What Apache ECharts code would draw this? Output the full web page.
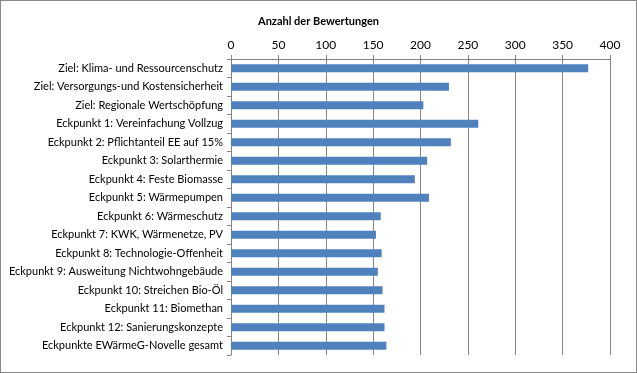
<!DOCTYPE html>
<html><head><meta charset="utf-8">
<script src="https://cdn.jsdelivr.net/npm/echarts@6/dist/echarts.min.js"></script>
<style>html,body{margin:0;padding:0;background:#fff}#c{width:637px;height:373px;box-sizing:border-box;border:1px solid #888}</style>
</head><body><div id="c"></div>
<script>
const categories = [
  "Ziel: Klima- und Ressourcenschutz",
  "Ziel: Versorgungs-und Kostensicherheit",
  "Ziel: Regionale Wertschöpfung",
  "Eckpunkt 1: Vereinfachung Vollzug",
  "Eckpunkt 2: Pflichtanteil EE auf 15%",
  "Eckpunkt 3: Solarthermie",
  "Eckpunkt 4: Feste Biomasse",
  "Eckpunkt 5: Wärmepumpen",
  "Eckpunkt 6: Wärmeschutz",
  "Eckpunkt 7: KWK, Wärmenetze, PV",
  "Eckpunkt 8: Technologie-Offenheit",
  "Eckpunkt 9: Ausweitung Nichtwohngebäude",
  "Eckpunkt 10: Streichen Bio-Öl",
  "Eckpunkt 11: Biomethan",
  "Eckpunkt 12: Sanierungskonzepte",
  "Eckpunkte EWärmeG-Novelle gesamt"
];
const values = [377, 230, 203, 261, 232, 207, 194, 209, 158, 153, 159, 155, 160, 162, 162, 164];
const xTicks = [0, 50, 100, 150, 200, 250, 300, 350, 400];

const chart = echarts.init(document.getElementById('c'), null, {renderer: 'canvas'});
const font = 'Lato, "Open Sans", sans-serif';
chart.setOption({
  animation: false,
  title: {
    text: 'Anzahl der Bewertungen',
    left: 'center', top: 10,
    textStyle: {fontFamily: font, fontSize: 11, fontWeight: 'bold', color: '#000'}
  },
  grid: {left: 230, right: 26, top: 58, bottom: 17, containLabel: false},
  xAxis: {
    type: 'value', position: 'top',
    min: xTicks[0], max: xTicks[xTicks.length - 1], interval: 50,
    axisLine: {show: true, lineStyle: {color: '#868686'}},
    axisTick: {show: true, length: 4, lineStyle: {color: '#868686'}},
    axisLabel: {fontFamily: font, fontSize: 12, color: '#000', margin: 8},
    splitLine: {show: true, lineStyle: {color: '#868686', width: 1}}
  },
  yAxis: {
    type: 'category', data: categories, inverse: true,
    axisLine: {show: true, lineStyle: {color: '#868686'}},
    axisTick: {show: true, length: 4, lineStyle: {color: '#868686'}},
    axisLabel: {fontFamily: font, fontSize: 11, color: '#000', margin: 8}
  },
  series: [{
    type: 'bar', data: values, barWidth: 8,
    itemStyle: {color: '#4F81BD'}
  }]
});
</script></body></html>
